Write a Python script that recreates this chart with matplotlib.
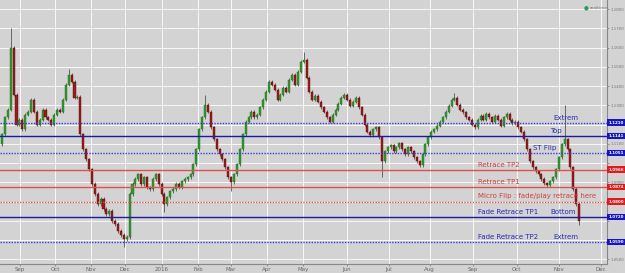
import matplotlib
matplotlib.use("Agg")
import matplotlib.pyplot as plt
import numpy as np

# daily-ish closes (EUR/USD, Aug 2015 -> Nov 2016)
first_open = 1.1097
closes = [
    1.1149, 1.1237, 1.1278, 1.1599, 1.1356, 1.1200, 1.1226, 1.1175, 1.1252, 1.1268,
    1.1330, 1.1268, 1.1200, 1.1226, 1.1278, 1.1237, 1.1226, 1.1200, 1.1252, 1.1278,
    1.1268, 1.1330, 1.1408, 1.1459, 1.1423, 1.1340, 1.1346, 1.1149, 1.1071, 1.1019,
    1.0967, 1.0890, 1.0838, 1.0786, 1.0812, 1.0760, 1.0734, 1.0750, 1.0698, 1.0682,
    1.0646, 1.0626, 1.0605, 1.0615, 1.0838, 1.0890, 1.0916, 1.0941, 1.0890, 1.0926,
    1.0874, 1.0864, 1.0916, 1.0941, 1.0890, 1.0838, 1.0786, 1.0822, 1.0853, 1.0864,
    1.0890, 1.0874, 1.0905, 1.0916, 1.0926, 1.0941, 1.0993, 1.1071, 1.1175, 1.1237,
    1.1304, 1.1268, 1.1185, 1.1123, 1.1071, 1.1045, 1.1019, 1.0978, 1.0926, 1.0900,
    1.0941, 1.0993, 1.1071, 1.1149, 1.1216, 1.1237, 1.1268, 1.1237, 1.1252, 1.1289,
    1.1330, 1.1371, 1.1423, 1.1408, 1.1382, 1.1330, 1.1356, 1.1392, 1.1371, 1.1434,
    1.1459, 1.1408, 1.1475, 1.1527, 1.1537, 1.1444, 1.1371, 1.1330, 1.1351, 1.1320,
    1.1289, 1.1268, 1.1237, 1.1216, 1.1252, 1.1278, 1.1309, 1.1340, 1.1356, 1.1330,
    1.1299, 1.1320, 1.1340, 1.1289, 1.1252, 1.1200, 1.1164, 1.1144, 1.1175, 1.1185,
    1.1133, 1.1009, 1.1061, 1.1081, 1.1092, 1.1061, 1.1081, 1.1102, 1.1071, 1.1045,
    1.1081, 1.1061, 1.1030, 1.1009, 1.0988, 1.1045, 1.1097, 1.1133, 1.1164, 1.1175,
    1.1195, 1.1216, 1.1237, 1.1268, 1.1299, 1.1330, 1.1340, 1.1304, 1.1278, 1.1263,
    1.1237, 1.1226, 1.1200, 1.1185, 1.1226, 1.1247, 1.1226, 1.1257, 1.1237, 1.1216,
    1.1247, 1.1226, 1.1195, 1.1237, 1.1257, 1.1226, 1.1206, 1.1216, 1.1185, 1.1164,
    1.1123, 1.1071, 1.1009, 1.0978, 1.0957, 1.0941, 1.0916, 1.0895, 1.0885, 1.0905,
    1.0926, 1.0967, 1.1030, 1.1097, 1.1123, 1.1071, 1.0978, 1.0864, 1.0786, 1.0698,
]
# bars with long wicks
spike_highs = {3: 1.1704, 23: 1.1490, 70: 1.1355, 104: 1.1580, 156: 1.1365, 194: 1.1304}
spike_lows = {42: 1.0564, 56: 1.0745, 79: 1.0855, 131: 1.0926, 199: 1.0680}

month_labels = ["Sep", "Oct", "Nov", "Dec", "2016", "Feb", "Mar", "Apr", "May",
                "Jun", "Jul", "Aug", "Sep", "Oct", "Nov", "Dec"]
month_pos = [6.2, 18.3, 30.7, 42.4, 55.2, 67.6, 79.0, 91.4, 103.8,
             118.8, 133.4, 147.5, 162.4, 177.5, 192.0, 206.6]

# price grid, and the tick labels that stay visible beside the level boxes
y_grid = [1.05, 1.06, 1.07, 1.08, 1.09, 1.10, 1.11, 1.12, 1.13, 1.14, 1.15, 1.16, 1.17, 1.18]
y_labels = [1.05, 1.09, 1.11, 1.13, 1.14, 1.15, 1.16, 1.17, 1.18]

# horizontal levels: value, colour kind, linestyle
level_values = [1.1210, 1.1141, 1.1051, 1.0966, 1.0874, 1.0800, 1.0720, 1.0590]
level_kinds = ["blue", "navy", "blue", "red", "red", "red", "navy", "blue"]
level_dotted = [True, False, True, False, False, True, False, True]

notes = [("Extrem", 190, 1.1210), ("Top", 189, 1.1141), ("ST Flip", 183, 1.1051),
         ("Retrace TP2", 164, 1.0966), ("Retrace TP1", 164, 1.0874),
         ("Micro Flip : fade/play retrace here", 164, 1.0800),
         ("Fade Retrace TP1", 164, 1.0720), ("Bottom", 189, 1.0720),
         ("Fade Retrace TP2", 164, 1.0590), ("Extrem", 190, 1.0590)]

BG = "#d3d3d3"
fig = plt.figure(figsize=(6.25, 2.73), dpi=100, facecolor=BG)
ax = fig.add_axes([0, 9 / 273, 607 / 625, 264 / 273])
ax.set_facecolor(BG)

opens = [first_open] + closes[:-1]
x = np.arange(len(closes))
pad = 0.0009
for i, (o, c) in enumerate(zip(opens, closes)):
    hi = spike_highs.get(i, max(o, c) + pad)
    lo = spike_lows.get(i, min(o, c) - pad)
    up = c >= o
    ax.vlines(x[i], lo, hi, color="#555555", lw=0.6, zorder=3)
    body = max(abs(c - o), 0.0003)
    ax.bar(x[i], body, bottom=min(o, c), width=0.7,
           color="#2e9a2e" if up else "#a01818",
           edgecolor="#1f6f1f" if up else "#5a0a0a", lw=0.3, zorder=4)

cols = {"blue": "#3a3adf", "navy": "#1a1aa8", "red": "#e05050"}
for v, k, d in zip(level_values, level_kinds, level_dotted):
    ax.axhline(v, color=cols[k], lw=1.0, ls=(0, (1, 1)) if d else "-", zorder=5)

for txt, xp, v in notes:
    c = "#d04040" if v in (1.0966, 1.0874, 1.0800) else "#2a2ab0"
    ax.annotate(txt, (xp, v), xytext=(0, 1.5), textcoords="offset points",
                fontsize=5, color=c, va="bottom", ha="left", zorder=6)

box_col = {"blue": "#1515d0", "navy": "#1515d0", "red": "#e81818"}
for v, k in zip(level_values, level_kinds):
    ax.annotate(f"{v:.4f}", (1.0, v), xycoords=("axes fraction", "data"),
                xytext=(0.9, 0), textcoords="offset points", fontsize=2.9,
                color="white", fontweight="bold", va="center", ha="left",
                bbox=dict(boxstyle="square,pad=0.3", fc=box_col[k], ec="none"),
                zorder=10, annotation_clip=False)

ax.set_xlim(-0.69, 208.6)
ax.set_ylim(1.0475, 1.1848)
ax.set_xticks(month_pos)
ax.set_xticklabels(month_labels)
ax.set_yticks(y_grid)
ax.set_yticklabels([f"{t:.4f}" if t in y_labels else "" for t in y_grid])
ax.yaxis.tick_right()
ax.tick_params(axis="both", labelsize=2.9, colors="#777777", length=1.5, width=0.5, pad=1.0)
ax.tick_params(axis="x", labelsize=4, labelcolor="#666666")
ax.grid(True, color="white", lw=0.6, zorder=0)
ax.set_axisbelow(True)
for s in ["top", "left"]:
    ax.spines[s].set_visible(False)
for s in ["right", "bottom"]:
    ax.spines[s].set_color("#888888")
    ax.spines[s].set_linewidth(0.8)

fig.text(0.934, 0.972, "\u25cf", color="#2a9a5a", fontsize=4, ha="left", va="center")
fig.text(0.944, 0.972, "realtime", color="#777777", fontsize=3.2, ha="left", va="center")

fig.savefig("out.png", dpi=100, facecolor=BG)
